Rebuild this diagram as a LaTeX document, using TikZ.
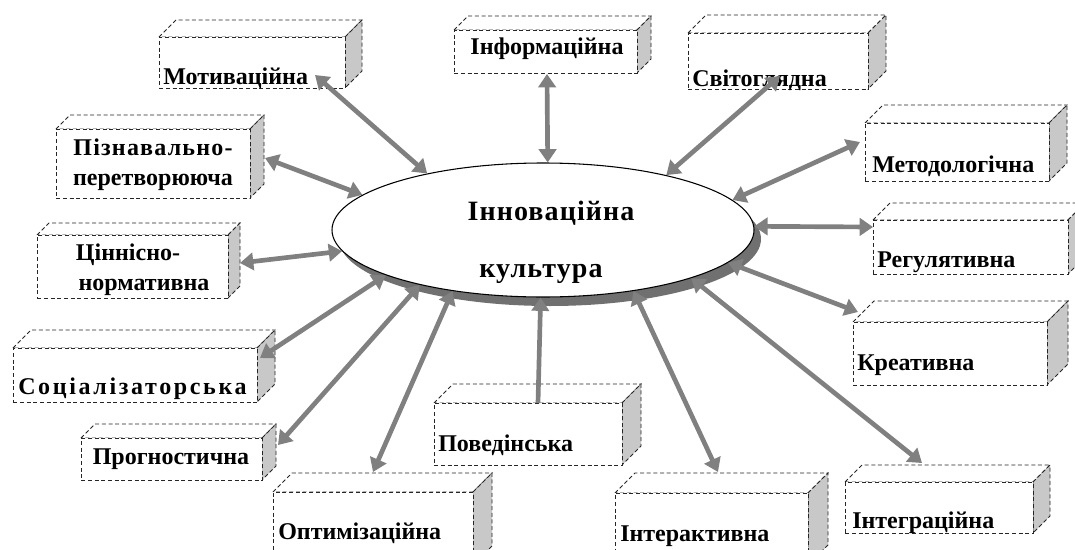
\documentclass[tikz,border=0pt]{standalone}
\usepackage{fontspec}
\setmainfont{Liberation Serif}
\usetikzlibrary{arrows.meta,shapes.geometric}
\definecolor{arr}{RGB}{128,128,128}
\definecolor{sidegray}{RGB}{200,200,200}
\definecolor{shd}{RGB}{112,112,112}
\newcommand\mybox[6]{%
  \filldraw[boxline, fill=white] (#2,#3) -- (#2+#6,#3-#6) -- (#4+#6,#3-#6) -- (#4,#3) -- cycle;
  \filldraw[boxline, fill=sidegray] (#4,#3) -- (#4+#6,#3-#6) -- (#4+#6,#5-#6) -- (#4,#5) -- cycle;
  \node[boxline, fill=white, anchor=north west, inner sep=0pt,
        minimum width={(#4-#2)*0.75pt}, minimum height={(#5-#3)*0.75pt}] (#1) at (#2,#3) {};
}
\begin{document}
\begin{tikzpicture}[x=0.75pt,y=-0.75pt,
  boxline/.style={draw=black!85, line width=0.6pt, densely dashed},
  lbl/.style={font=\fontsize{18}{22}\selectfont\bfseries, inner sep=0pt},
  big/.style={font=\fontsize{21}{25}\selectfont\bfseries\addfontfeature{LetterSpace=4}, inner sep=0pt},
  tipA/.tip={Triangle[length=10pt,width=13pt]},
  link/.style={draw=arr, line width=3.5pt, tipA-tipA},
  onelink/.style={draw=arr, line width=3.5pt, -tipA}]
\useasboundingbox (0,0) rectangle (1075,550);
\fill[white] (0,0) rectangle (1075,550);

% central ellipse with shadow
\node[ellipse, fill=shd, inner sep=0pt, minimum width=316.5pt, minimum height=100.5pt] (Es) at (550,239) {};
\node[ellipse, draw=black, line width=0.8pt, fill=white, inner sep=0pt, minimum width=316.5pt, minimum height=100.5pt] (E) at (543,230) {};
\node[big, anchor=base] (E1) at (551,220) {Інноваційна};
\node[big, anchor=base] (E2) at (541,277) {культура};

% boxes
\mybox{mot}{159}{37}{345}{88}{17}
\mybox{inf}{454}{30}{637}{73}{14}
\mybox{svt}{688}{33}{868}{89}{18}
\mybox{piz}{56}{129}{250}{198}{14}
\mybox{cin}{37}{235}{228}{298}{12}
\mybox{met}{865}{123}{1049}{181}{18}
\mybox{reg}{873}{220}{1068}{274}{17}
\mybox{kre}{853}{322}{1047}{385}{21}
\mybox{soc}{13}{348}{257}{402}{18}
\mybox{pro}{81}{438}{262}{480}{14}
\mybox{opt}{273}{492}{473}{565}{19}
\mybox{pov}{434}{403}{622}{465}{19}
\mybox{iat}{615}{493}{808}{565}{20}
\mybox{igr}{845}{482}{1033}{533}{17}

% labels
\node[lbl, anchor=base west] (tmot) at (163,84) {Мотиваційна};
\node[lbl, anchor=base] (tinf) at (547,54) {Інформаційна};
\node[lbl, anchor=base west] (tsvt) at (692,86) {Світоглядна};
\node[lbl, anchor=base] (tpiz1) at (153,155) {\addfontfeature{LetterSpace=5}Пізнавально-};
\node[lbl, anchor=base] (tpiz2) at (153,185) {перетворююча};
\node[lbl, anchor=base] (tcin1) at (128,260) {Ціннісно-};
\node[lbl, anchor=base] (tcin2) at (144,290) {нормативна};
\node[lbl, anchor=base west] (tmet) at (872,172) {Методологічна};
\node[lbl, anchor=base west] (treg) at (877,267) {Регулятивна};
\node[lbl, anchor=base west] (tkre) at (857,370) {Креативна};
\node[lbl, anchor=base west] (tsoc) at (18,394) {\addfontfeature{LetterSpace=11}Соціалізаторська};
\node[lbl, anchor=base] (tpro) at (171,464) {Прогностична};
\node[lbl, anchor=base west] (topt) at (278,539) {Оптимізаційна};
\node[lbl, anchor=base west] (tpov) at (438,451) {Поведінська};
\node[lbl, anchor=base west] (tiat) at (620,541) {Інтерактивна};
\node[lbl, anchor=base west] (tigr) at (852,528) {Інтеграційна};

% connector end points on the boxes
\coordinate (pmot) at (315,75);
\coordinate (pinf) at (547,74);
\coordinate (psvt) at (780,76);
\coordinate (pmet) at (860,142);
\coordinate (preg) at (873,227);
\coordinate (pkre) at (858,312);
\coordinate (pigr) at (922,463);
\coordinate (piat) at (718,472);
\coordinate (ppov) at (538,403);
\coordinate (popt) at (373,472);
\coordinate (ppro) at (278,445);
\coordinate (psoc) at (260,358);
\coordinate (pcin) at (240,263);
\coordinate (ppiz) at (265,158);

% connectors
\draw[link] (pmot) -- (E.154.5);
\draw[link] (pinf) -- (E.86.8);
\draw[link] (psvt) -- (E.24);
\draw[link] (pmet) -- (E.9.6);
\draw[link] (preg) -- (E.1.5);
\draw[link] (pkre) -- (E.-10.5);
\draw[link] (pigr) -- (E.-18.1);
\draw[link] (piat) -- (E.-34.5);
\draw[onelink] (ppov) -- (E.-92.5);
\draw[link] (popt) -- (E.214.8);
\draw[link] (ppro) -- (E.204.6);
\draw[link] (psoc) -- (E.196.9);
\draw[link] (pcin) -- (E.186);
\draw[link] (ppiz) -- (E.169.3);
\end{tikzpicture}
\end{document}
